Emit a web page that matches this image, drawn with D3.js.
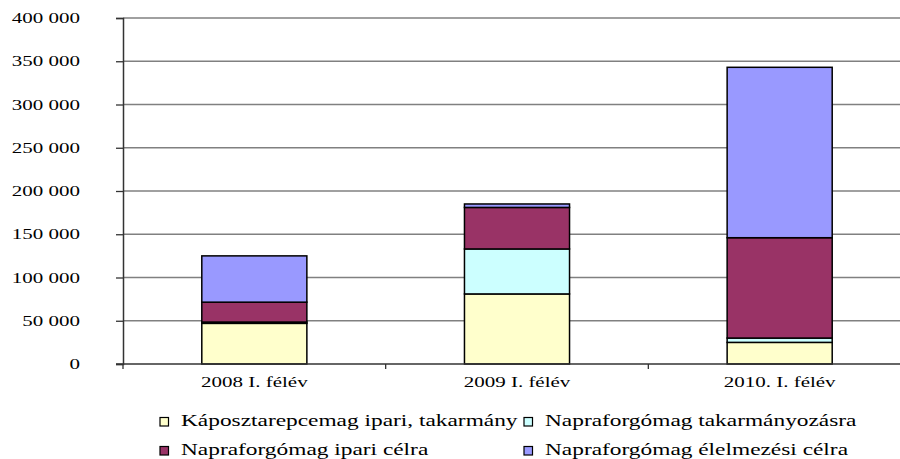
<!DOCTYPE html>
<html>
<head>
<meta charset="utf-8">
<script src="https://cdn.jsdelivr.net/npm/d3@7"></script>
<style>
  body { margin: 0; background: #fff; }
  svg { display: block; font-family: "Liberation Serif", "Times New Roman", serif; }
</style>
</head>
<body>
<div id="chart"></div>
<script>
// data
var categories = ["2008 I. félév", "2009 I. félév", "2010. I. félév"];
var seriesNames = ["Káposztarepcemag ipari, takarmány", "Napraforgómag takarmányozásra",
                   "Napraforgómag ipari célra", "Napraforgómag élelmezési célra"];
var kaposzta   = [47000, 81000, 25000];
var takarmany  = [1500, 52000, 5000];
var ipari      = [23000, 48000, 116000];
var elelmezesi = [53500, 4000, 197000];
var yTicks = [0, 50000, 100000, 150000, 200000, 250000, 300000, 350000, 400000];
var colors = ["#FFFFCC", "#CCFFFF", "#993366", "#9999FF"];

var W = 900, H = 459;
var stretch = 1.4;     // text in the picture is stretched sideways
var legStretch = 1.46;

var svg = d3.select("#chart").append("svg").attr("width", W).attr("height", H);

var rows = categories.map(function(c, i) {
  return {cat: c, s0: kaposzta[i], s1: takarmany[i], s2: ipari[i], s3: elelmezesi[i]};
});
var stacked = d3.stack().keys(["s0", "s1", "s2", "s3"])(rows);

var x = d3.scaleBand().domain(categories).range([123, 911]).padding(0);
var y = d3.scaleLinear().domain([0, 400000]).range([364, 18]);
var fmt = function(v) { return d3.format(",")(v).replace(/,/g, " "); };

// gridlines
svg.append("g").selectAll("line").data(yTicks.slice(1)).join("line")
  .attr("x1", 123).attr("x2", W)
  .attr("y1", function(d) { return y(d); }).attr("y2", function(d) { return y(d); })
  .attr("stroke", "#808080").attr("stroke-width", 1.3);

// bars
var barW = x.bandwidth() * 0.4;
svg.append("g").selectAll("g").data(stacked).join("g")
  .attr("fill", function(d, i) { return colors[i]; })
  .selectAll("rect").data(function(d) { return d; }).join("rect")
  .attr("x", function(d) { return x(d.data.cat) + x.bandwidth() / 2 - barW / 2; })
  .attr("y", function(d) { return y(d[1]); })
  .attr("width", barW)
  .attr("height", function(d) { return y(d[0]) - y(d[1]); })
  .attr("stroke", "#000").attr("stroke-width", 1.5);

// y axis
var yAxis = svg.append("g").attr("transform", "translate(123,0)")
  .call(d3.axisLeft(y).tickValues(yTicks).tickSize(7).tickFormat(""));
yAxis.select(".domain").attr("stroke", "#333").attr("stroke-width", 1.5);
yAxis.selectAll(".tick line").attr("stroke", "#333").attr("stroke-width", 1.3);

svg.append("g").selectAll("text").data(yTicks).join("text")
  .attr("transform", function(d) { return "translate(80," + (y(d) + 5) + ") scale(" + stretch + ",1)"; })
  .attr("text-anchor", "end").attr("font-size", 15).attr("fill", "#000")
  .text(fmt);

// x axis
svg.append("line").attr("x1", 116).attr("x2", W).attr("y1", 364).attr("y2", 364)
  .attr("stroke", "#333").attr("stroke-width", 1.5);
svg.append("g").selectAll("line").data(categories).join("line")
  .attr("x1", function(d) { return x(d); }).attr("x2", function(d) { return x(d); })
  .attr("y1", 364).attr("y2", 369)
  .attr("stroke", "#333").attr("stroke-width", 1.3);

svg.append("g").selectAll("text").data(categories).join("text")
  .attr("transform", function(d) { return "translate(" + (x(d) + x.bandwidth() / 2) + ",387) scale(" + stretch + ",1)"; })
  .attr("text-anchor", "middle").attr("font-size", 15).attr("fill", "#000")
  .text(function(d) { return d; });

// legend
var legendPos = [[160, 426], [524, 426], [160, 455], [524, 455]];
var legend = svg.append("g").selectAll("g").data(seriesNames).join("g")
  .attr("transform", function(d, i) { return "translate(" + legendPos[i][0] + "," + legendPos[i][1] + ")"; });
legend.append("rect")
  .attr("x", 0).attr("y", -8.5).attr("width", 8.5).attr("height", 8.5)
  .attr("fill", function(d, i) { return colors[i]; })
  .attr("stroke", "#000").attr("stroke-width", 1.2);
legend.append("text")
  .attr("transform", "translate(21,0) scale(" + legStretch + ",1)")
  .attr("font-size", 16).attr("fill", "#000")
  .text(function(d) { return d; });
</script>
</body>
</html>
